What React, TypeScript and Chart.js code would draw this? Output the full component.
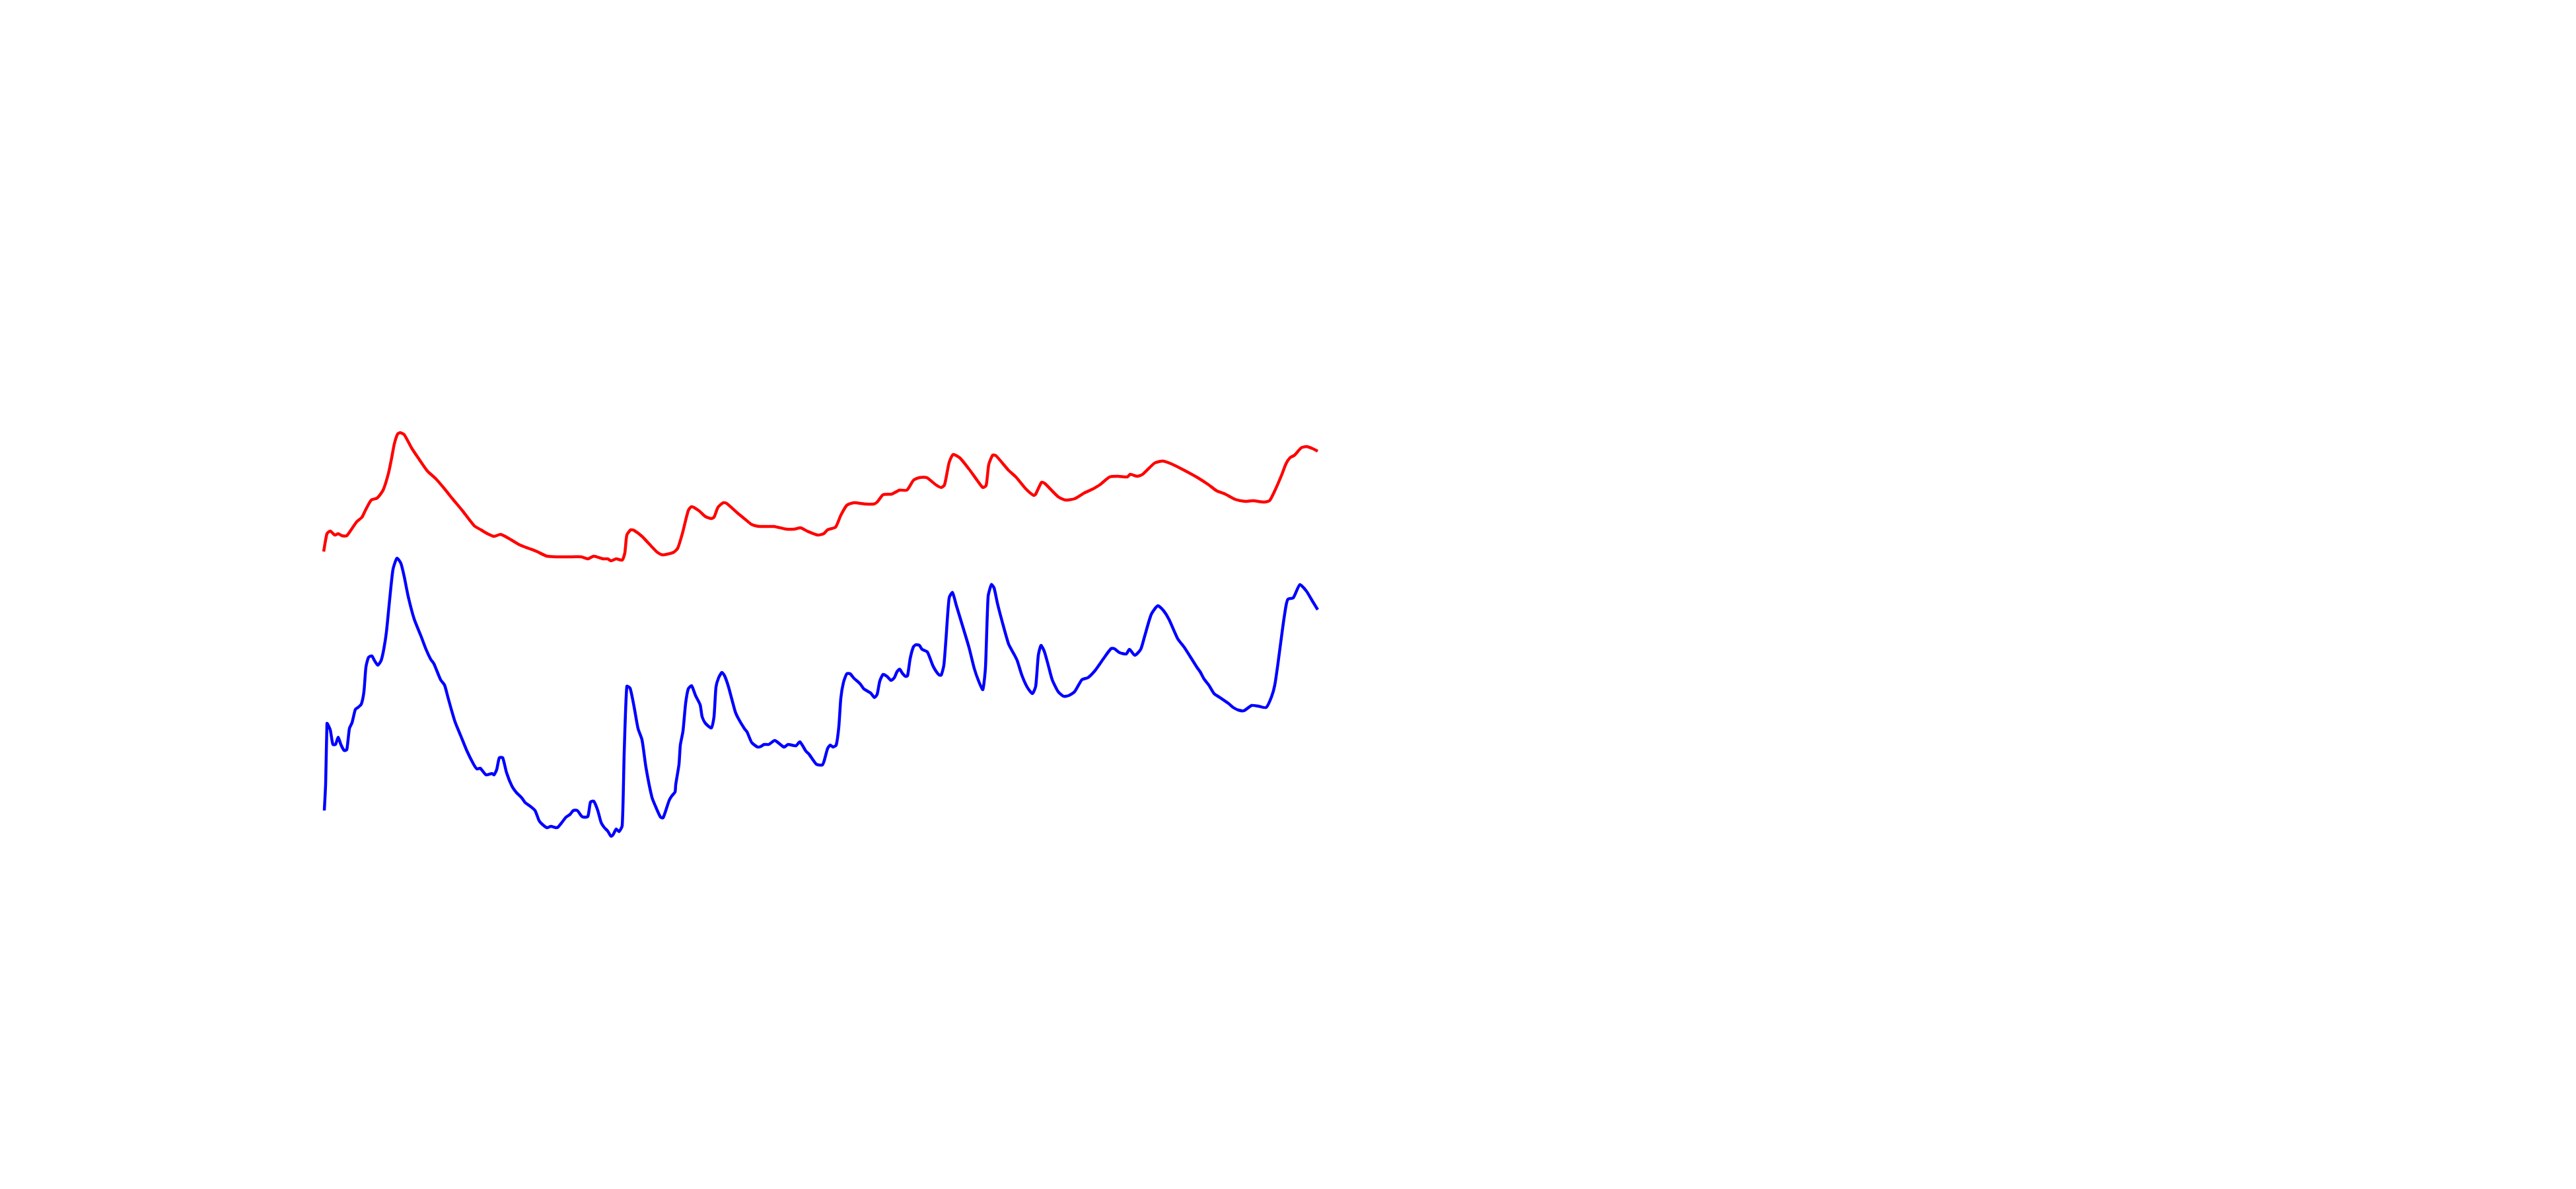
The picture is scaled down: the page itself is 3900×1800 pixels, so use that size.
import React, { useEffect, useRef } from "react";
import { Chart, registerables } from "chart.js";

Chart.register(...registerables);

// sample positions (time index) and values for the red series
const redX = [0, 5, 10, 17, 22, 28, 35, 43, 50, 58, 63, 72, 81, 90, 98, 103, 107, 112, 116, 122, 133, 143, 157, 170, 183, 195, 210, 228, 238, 248, 258, 268, 280, 297, 310, 323, 338, 355, 370, 390, 400, 409, 423, 430, 435, 443, 452, 456, 459, 465, 470, 482, 497, 505, 513, 520, 530, 536, 543, 552, 557, 568, 578, 587, 591, 597, 605, 610, 627, 638, 648, 660, 672, 682, 700, 713, 722, 732, 748, 757, 763, 775, 783, 792, 803, 820, 833, 838, 847, 860, 872, 883, 893, 902, 913, 927, 935, 940, 947, 953, 963, 977, 990, 998, 1003, 1007, 1013, 1018, 1037, 1048, 1063, 1075, 1078, 1087, 1092, 1112, 1123, 1137, 1152, 1163, 1175, 1190, 1202, 1217, 1221, 1232, 1240, 1258, 1270, 1283, 1303, 1323, 1340, 1352, 1365, 1380, 1395, 1407, 1423, 1432, 1440, 1450, 1457, 1463, 1470, 1480, 1488, 1497, 1505];
const redY = [465, 492, 496, 490, 492, 489, 489, 500, 510, 517, 527, 543, 546, 558, 583, 607, 628, 643, 645, 642, 622, 607, 587, 575, 560, 545, 527, 504, 498, 492, 488, 491, 485, 475, 470, 465, 458, 457, 457, 457, 454, 458, 454, 454, 451, 454, 452, 463, 490, 498, 497, 488, 472, 464, 460, 461, 464, 470, 492, 527, 533, 527, 518, 515, 517, 532, 539, 538, 523, 514, 506, 503, 503, 503, 499, 499, 501, 496, 490, 492, 498, 502, 520, 535, 539, 537, 537, 540, 551, 552, 558, 558, 573, 577, 577, 566, 562, 566, 600, 612, 607, 590, 572, 562, 565, 597, 611, 610, 588, 578, 560, 550, 552, 570, 568, 548, 543, 545, 554, 559, 566, 578, 579, 578, 582, 579, 582, 599, 602, 598, 588, 577, 566, 557, 552, 544, 541, 542, 540, 542, 557, 580, 598, 607, 611, 622, 624, 621, 617];

// sample positions (time index) and values for the blue series
const blueX = [1, 3, 5, 6, 10, 14, 18, 22, 26, 31, 35, 39, 43, 48, 52, 57, 61, 64, 68, 73, 77, 82, 87, 91, 95, 100, 105, 111, 117, 122, 128, 137, 147, 155, 162, 167, 177, 183, 188, 193, 199, 208, 217, 227, 232, 237, 246, 255, 258, 262, 266, 271, 277, 285, 292, 300, 305, 312, 320, 326, 330, 338, 344, 352, 355, 360, 367, 373, 378, 384, 390, 393, 400, 404, 409, 415, 420, 425, 430, 435, 438, 443, 447, 452, 455, 459, 464, 470, 476, 482, 488, 497, 503, 510, 514, 523, 527, 532, 533, 538, 540, 544, 548, 552, 557, 563, 570, 573, 578, 587, 591, 594, 598, 603, 607, 613, 623, 628, 637, 641, 648, 657, 662, 667, 674, 683, 697, 703, 715, 721, 730, 735, 746, 755, 758, 763, 767, 771, 776, 780, 783, 787, 792, 797, 803, 812, 818, 828, 834, 838, 842, 847, 853, 859, 864, 868, 872, 876, 881, 884, 888, 893, 897, 902, 906, 914, 922, 927, 932, 935, 939, 942, 947, 952, 958, 965, 977, 985, 992, 998, 1002, 1006, 1011, 1015, 1020, 1027, 1037, 1045, 1050, 1057, 1065, 1073, 1078, 1082, 1086, 1091, 1097, 1103, 1112, 1120, 1128, 1137, 1148, 1157, 1168, 1180, 1192, 1197, 1205, 1215, 1220, 1228, 1237, 1243, 1253, 1263, 1272, 1280, 1293, 1303, 1322, 1327, 1333, 1340, 1348, 1357, 1370, 1377, 1385, 1393, 1405, 1415, 1427, 1435, 1440, 1445, 1452, 1457, 1460, 1468, 1478, 1488, 1497, 1505];
const blueY = [73, 113, 205, 204, 195, 173, 173, 184, 173, 164, 165, 197, 206, 226, 229, 234, 253, 290, 305, 307, 300, 293, 300, 317, 343, 393, 438, 455, 447, 427, 397, 363, 338, 317, 302, 295, 271, 263, 245, 227, 207, 185, 163, 143, 136, 137, 127, 129, 127, 135, 153, 153, 130, 110, 100, 92, 85, 80, 73, 58, 53, 47, 49, 47, 48, 54, 63, 67, 73, 73, 65, 63, 64, 86, 87, 73, 55, 47, 42, 34, 36, 45, 41, 50, 160, 261, 258, 230, 197, 180, 138, 93, 78, 63, 62, 88, 95, 101, 112, 143, 172, 193, 235, 257, 262, 247, 233, 215, 205, 198, 215, 260, 274, 282, 277, 260, 223, 212, 197, 192, 176, 169, 170, 173, 173, 179, 169, 173, 171, 177, 163, 158, 143, 142, 149, 167, 172, 169, 172, 200, 243, 267, 280, 280, 273, 265, 257, 251, 244, 249, 269, 279, 276, 270, 274, 283, 287, 281, 276, 277, 303, 321, 324, 323, 317, 313, 293, 284, 278, 278, 293, 330, 395, 403, 383, 360, 320, 288, 268, 256, 290, 397, 415, 410, 387, 360, 325, 310, 300, 278, 260, 250, 261, 308, 323, 314, 293, 271, 253, 246, 247, 253, 271, 274, 285, 302, 318, 318, 312, 310, 317, 308, 317, 337, 370, 383, 375, 362, 333, 320, 290, 283, 272, 263, 250, 244, 235, 229, 225, 224, 232, 231, 229, 245, 263, 297, 350, 383, 393, 395, 415, 405, 390, 377];

const xMin = 0;
const xMax = 1505;
const yMin = 0;
const yMax = 700;

export default function App() {
  const canvasRef = useRef<HTMLCanvasElement | null>(null);

  useEffect(() => {
    const canvas = canvasRef.current;
    if (!canvas) return;
    const redData = redX.map((x, i) => ({ x, y: redY[i] }));
    const blueData = blueX.map((x, i) => ({ x, y: blueY[i] }));
    const chart = new Chart(canvas, {
      type: "line",
      data: {
        datasets: [
          {
            label: "red",
            data: redData,
            borderColor: "#ff0000",
            backgroundColor: "#ff0000",
            borderWidth: 4.5,
            pointRadius: 0,
            tension: 0.2,
            fill: false,
            clip: false,
          },
          {
            label: "blue",
            data: blueData,
            borderColor: "#0000ff",
            backgroundColor: "#0000ff",
            borderWidth: 4.5,
            pointRadius: 0,
            tension: 0.2,
            fill: false,
            clip: false,
          },
        ],
      },
      options: {
        responsive: false,
        animation: false,
        devicePixelRatio: 1,
        layout: { padding: { left: 490, right: 1905, top: 600, bottom: 500 } },
        plugins: { legend: { display: false }, tooltip: { enabled: false } },
        scales: {
          x: { type: "linear", min: xMin, max: xMax, display: false },
          y: { type: "linear", min: yMin, max: yMax, display: false },
        },
      },
    });
    return () => chart.destroy();
  }, []);

  return (
    <div style={{ position: "absolute", left: 0, top: 0, width: 3900, height: 1800, background: "#ffffff" }}>
      <canvas ref={canvasRef} width={3900} height={1800} style={{ display: "block" }} />
    </div>
  );
}
